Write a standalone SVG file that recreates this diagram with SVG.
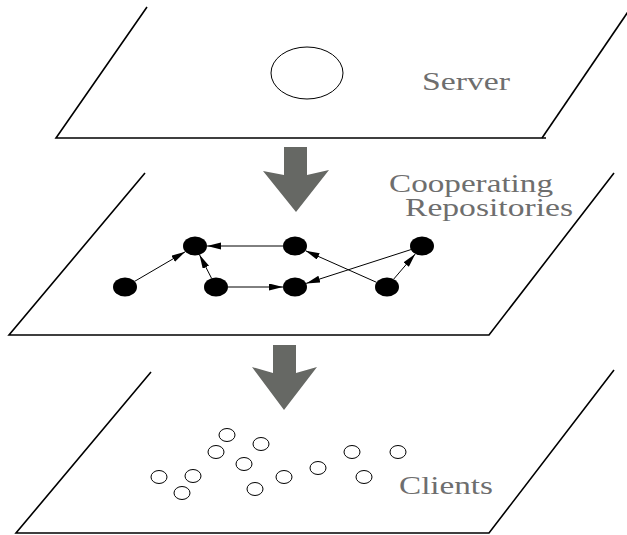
<svg xmlns="http://www.w3.org/2000/svg" width="627" height="535" viewBox="0 0 627 535">
<style>
.plane{fill:none;stroke:#000;stroke-width:1.6;stroke-linejoin:miter}
.lbl{font-family:"Liberation Serif","Times New Roman",serif;font-size:25px;fill:#6e6e6e}
.big{fill:#666864;stroke:none}
.node{fill:#000;stroke:none}
.edge{stroke:#000;stroke-width:1;fill:none;marker-end:url(#ah)}
.client{fill:#fff;stroke:#000;stroke-width:1}
</style>
<defs>
<marker id="ah" markerUnits="userSpaceOnUse" markerWidth="14" markerHeight="8" refX="14" refY="3.5" orient="auto">
<path d="M0,0 L14,3.5 L0,7 z" fill="#000"/>
</marker>
</defs>
<rect width="627" height="535" fill="#fff"/>

<g id="server-plane">
<polyline class="plane" points="147,7 56,138 546,138"/>
<line class="plane" x1="542" y1="138" x2="636" y2="0"/>
<ellipse id="server" cx="307" cy="73" rx="36" ry="26" fill="none" stroke="#000" stroke-width="1"/>
<text class="lbl" x="422" y="90" textLength="88" lengthAdjust="spacingAndGlyphs">Server</text>
</g>

<g id="arrow1">
<polygon class="big" points="284,147 307,147 307,175 329,170 296,212 263,171 284,175"/>
</g>

<g id="repo-plane">
<polyline class="plane" points="145,173 9,335 489,335 614,173"/>
<text class="lbl" x="389" y="192" textLength="164" lengthAdjust="spacingAndGlyphs">Cooperating</text>
<text class="lbl" x="405" y="216" textLength="168" lengthAdjust="spacingAndGlyphs">Repositories</text>
</g>

<g id="connectors">
<line class="edge" x1="134.7" y1="281.3" x2="185.3" y2="251.7"/>
<line class="edge" x1="283" y1="246" x2="207" y2="246"/>
<line class="edge" x1="211.5" y1="278.2" x2="199.5" y2="254.8"/>
<line class="edge" x1="228" y1="287" x2="283" y2="287"/>
<line class="edge" x1="376.5" y1="282.3" x2="305.5" y2="250.7"/>
<line class="edge" x1="410.9" y1="249.6" x2="306.1" y2="283.4"/>
<line class="edge" x1="393.7" y1="279.1" x2="415.3" y2="253.9"/>
</g>

<g id="nA"><ellipse class="node" cx="125" cy="287" rx="12" ry="9.5"/></g>
<g id="nB"><ellipse class="node" cx="195" cy="246" rx="12" ry="9.5"/></g>
<g id="nC"><ellipse class="node" cx="295" cy="246" rx="12" ry="9.5"/></g>
<g id="nD"><ellipse class="node" cx="216" cy="287" rx="12" ry="9.5"/></g>
<g id="nE"><ellipse class="node" cx="295" cy="287" rx="12" ry="9.5"/></g>
<g id="nF"><ellipse class="node" cx="422" cy="246" rx="12" ry="9.5"/></g>
<g id="nG"><ellipse class="node" cx="387" cy="287" rx="12" ry="9.5"/></g>

<g id="arrow2">
<polygon class="big" points="273,345 296,345 296,373 317,367 284,410 252,367 273,373"/>
</g>

<g id="client-plane">
<polyline class="plane" points="151,372 16,533 489,533 614,370"/>
<text class="lbl" x="399" y="494" textLength="94" lengthAdjust="spacingAndGlyphs">Clients</text>
</g>

<g id="clients">
<ellipse class="client" cx="227" cy="435" rx="8" ry="6.5"/>
<ellipse class="client" cx="261" cy="444" rx="8" ry="6.5"/>
<ellipse class="client" cx="216" cy="452" rx="8" ry="6.5"/>
<ellipse class="client" cx="244" cy="464" rx="8" ry="6.5"/>
<ellipse class="client" cx="159" cy="477" rx="8" ry="6.5"/>
<ellipse class="client" cx="193" cy="476" rx="8" ry="6.5"/>
<ellipse class="client" cx="182" cy="493" rx="8" ry="6.5"/>
<ellipse class="client" cx="255" cy="489" rx="8" ry="6.5"/>
<ellipse class="client" cx="284" cy="477" rx="8" ry="6.5"/>
<ellipse class="client" cx="318" cy="468" rx="8" ry="6.5"/>
<ellipse class="client" cx="352" cy="452" rx="8" ry="6.5"/>
<ellipse class="client" cx="398" cy="452" rx="8" ry="6.5"/>
<ellipse class="client" cx="364" cy="477" rx="8" ry="6.5"/>
</g>
</svg>
